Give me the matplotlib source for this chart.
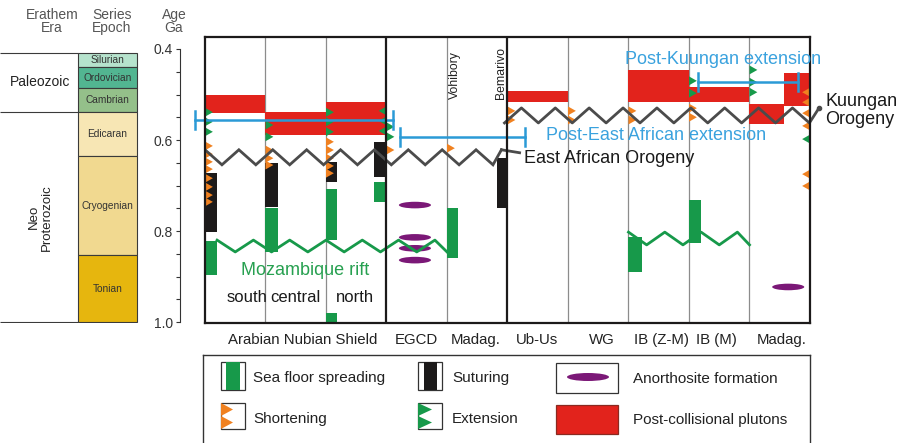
import numpy as np
import matplotlib
matplotlib.use("Agg")
import matplotlib.pyplot as plt
from matplotlib.patches import Rectangle, Ellipse, Polygon

plt.rcParams['font.family'] = ['Liberation Sans', 'DejaVu Sans']

W, H = 904, 443

# ------------------------------------------------------------------ data
periods = ['Silurian', 'Ordovician', 'Cambrian', 'Edicaran', 'Cryogenian', 'Tonian']
period_top = [0.409, 0.440, 0.486, 0.538, 0.635, 0.853]
period_base = [0.440, 0.486, 0.538, 0.635, 0.853, 1.000]
period_colors = ['#b6e3cd', '#52b591', '#94c08a', '#f7e6b4', '#f1d990', '#e6b60e']
eras = ['Paleozoic', 'Neo\nProterozoic']
era_mid = [0.473, 0.77]
era_bounds = [0.409, 0.538, 1.000]

age_major = [0.4, 0.6, 0.8, 1.0]
age_minor = [0.45, 0.5, 0.55, 0.65, 0.7, 0.75, 0.85, 0.9, 0.95]

sub_columns = ['south', 'central', 'north']
sub_col_x = [0.69, 1.49, 2.48]
groups = ['Arabian Nubian Shield', 'EGCD', 'Madag.', 'Ub-Us', 'WG', 'IB (Z-M)', 'IB (M)', 'Madag.']
group_x = [1.62, 3.49, 4.48, 5.49, 6.56, 7.54, 8.46, 9.54]

# sea floor spreading (green bars)
spread_x0 = [0.00, 1.00, 2.00, 2.00, 2.80, 4.00, 7.00, 8.00]
spread_x1 = [0.20, 1.20, 2.18, 2.18, 3.00, 4.18, 7.22, 8.20]
spread_top = [0.822, 0.750, 0.708, 0.980, 0.692, 0.750, 0.813, 0.732]
spread_base = [0.897, 0.846, 0.820, 1.000, 0.736, 0.860, 0.890, 0.826]

# suturing (black bars)
suture_x0 = [0.00, 1.00, 2.00, 2.80, 4.83]
suture_x1 = [0.20, 1.20, 2.18, 3.00, 5.00]
suture_top = [0.673, 0.651, 0.648, 0.604, 0.640]
suture_base = [0.802, 0.747, 0.692, 0.681, 0.750]

# post-collisional plutons (red blocks)
pluton_x0 = [0.0, 1.0, 2.0, 5.0, 7.0, 8.0, 9.0, 9.57]
pluton_x1 = [1.0, 2.0, 3.0, 6.0, 8.0, 9.0, 9.57, 10.0]
pluton_top = [0.501, 0.538, 0.516, 0.492, 0.446, 0.484, 0.521, 0.453]
pluton_base = [0.541, 0.589, 0.589, 0.516, 0.516, 0.516, 0.565, 0.525]

# shortening (orange triangles): column edge, age, direction
short_x = [0] * 8 + [1] * 3 + [2] * 5 + [3, 4, 5, 5, 6, 6, 7, 7, 8, 8] + [10] * 6
short_age = [0.613, 0.631, 0.648, 0.664, 0.684, 0.703, 0.721, 0.736,
             0.622, 0.640, 0.655,
             0.604, 0.622, 0.640, 0.657, 0.673,
             0.622, 0.618, 0.536, 0.556, 0.536, 0.556, 0.536, 0.556, 0.530, 0.550,
             0.495, 0.517, 0.541, 0.569, 0.675, 0.701]
short_dir = [1] * 26 + [-1] * 6

# extension (green triangles)
ext_x = [0, 0, 0, 1, 1, 2, 2, 2, 3, 3, 3, 3, 3, 8, 8, 9, 9, 9, 10]
ext_age = [0.539, 0.560, 0.582, 0.567, 0.593, 0.539, 0.560, 0.582,
           0.536, 0.558, 0.580, 0.571, 0.593, 0.470, 0.497, 0.446, 0.473, 0.495, 0.598]
ext_dir = [1] * 8 + [-1] * 3 + [1] * 7 + [-1]

# anorthosite formation
anor_x = [3.47, 3.47, 3.47, 3.47, 9.64]
anor_age = [0.743, 0.814, 0.838, 0.864, 0.923]

# orogenies / rifts (zig-zag lines): x-range, central age
ea_orogeny = dict(x0=0.0, x1=4.9, age=0.638)
kuungan_orogeny = dict(x0=4.95, x1=10.15, age=0.546)
moz_rift = dict(x0=0.2, x1=4.0, age=0.833)
ib_rift = dict(x0=7.0, x1=9.0, age=0.8165)

# extension periods (blue brackets)
bracket_x0 = [-0.165, 3.22, 8.15]
bracket_x1 = [3.107, 5.29, 9.80]
bracket_age = [0.556, 0.593, 0.4725]

# ------------------------------------------------------------------ style
RED = '#e2231c'
GREEN = '#17994a'
BLACK = '#1c1a1a'
ORANGE = '#f08120'
PURPLE = '#7b1877'
GREY = '#4b4b4b'
BLUE = '#2b9ad6'
TBLUE = '#3aa2de'


def ax_rect(x0, y0, x1, y1):
    return [x0 / W, 1 - y1 / H, (x1 - x0) / W, (y1 - y0) / H]


AGE_TOP = 0.4 + (37 - 49) / 455
AGE_BOT = 0.4 + (323 - 49) / 455

fig = plt.figure(figsize=(W / 100, H / 100), dpi=100)
fig.patch.set_facecolor('white')

# ------------------------------------------------------------ time scale
ts = fig.add_axes(ax_rect(0, 37, 180, 323))
ts.set_xlim(0, 180)
ts.set_ylim(AGE_BOT, AGE_TOP)
ts.axis('off')
for name, t, b, c in zip(periods, period_top, period_base, period_colors):
    ts.add_patch(Rectangle((78, t), 59, b - t, facecolor=c, edgecolor='#3a3a3a', lw=0.8))
    ts.text(107.5, (t + b) / 2, name, ha='center', va='center', fontsize=7.3, color='#333333')
ts.hlines(era_bounds, 0, 78, color='#3a3a3a', lw=0.8)
ts.text(40, era_mid[0], eras[0], ha='center', va='center', fontsize=10, color='#222222')
ts.text(40, era_mid[1], eras[1], ha='center', va='center', fontsize=9.5, color='#222222',
        rotation=90, linespacing=1.1)

fig.text(52 / W, 1 - 15 / H, 'Erathem', ha='center', va='center', fontsize=10, color='#555555')
fig.text(52 / W, 1 - 28 / H, 'Era', ha='center', va='center', fontsize=10, color='#555555')
fig.text(112 / W, 1 - 15 / H, 'Series', ha='center', va='center', fontsize=10, color='#555555')
fig.text(112 / W, 1 - 28 / H, 'Epoch', ha='center', va='center', fontsize=10, color='#555555')
fig.text(174 / W, 1 - 15 / H, 'Age', ha='center', va='center', fontsize=10, color='#555555')
fig.text(174 / W, 1 - 28 / H, 'Ga', ha='center', va='center', fontsize=10, color='#555555')

# age axis
aa = fig.add_axes(ax_rect(180, 37, 181, 323))
aa.set_ylim(AGE_BOT, AGE_TOP)
aa.patch.set_visible(False)
for s in ['top', 'right', 'bottom']:
    aa.spines[s].set_visible(False)
aa.spines['left'].set_bounds(0.4, 1.0)
aa.spines['left'].set_color('#333333')
aa.spines['left'].set_linewidth(0.8)
aa.set_xticks([])
aa.set_yticks(age_major)
aa.set_yticklabels(['%.1f' % v for v in age_major])
aa.set_yticks(age_minor, minor=True)
aa.tick_params(axis='y', which='both', direction='out', length=3, width=0.8,
               color='#333333', labelsize=10, labelcolor='#333333', pad=2)

# ------------------------------------------------------------ main panel
ax = fig.add_axes(ax_rect(205, 37, 810, 323))
ax.set_xlim(0, 10)
ax.set_ylim(AGE_BOT, AGE_TOP)
ax.set_xticks([])
ax.set_yticks([])
for s in ax.spines.values():
    s.set_linewidth(1.6)
    s.set_color(BLACK)
    s.set_zorder(8)
for i in range(1, 10):
    thick = i in (3, 5)
    ax.axvline(i, color=BLACK if thick else '#8c8c8c', lw=1.6 if thick else 0.9,
               zorder=7 if thick else 1)

for x0, x1, t, b in zip(pluton_x0, pluton_x1, pluton_top, pluton_base):
    ax.add_patch(Rectangle((x0, t), x1 - x0, b - t, facecolor=RED, edgecolor='none', zorder=2))
for x0, x1, t, b in zip(spread_x0, spread_x1, spread_top, spread_base):
    ax.add_patch(Rectangle((x0, t), x1 - x0, b - t, facecolor=GREEN, edgecolor='none', zorder=3))
for x0, x1, t, b in zip(suture_x0, suture_x1, suture_top, suture_base):
    ax.add_patch(Rectangle((x0, t), x1 - x0, b - t, facecolor=BLACK, edgecolor='none', zorder=3))

TW, TH = 0.13, 0.0195


def tri(x, a, d, color):
    ax.add_patch(Polygon([(x, a - TH / 2), (x, a + TH / 2), (x + d * TW, a)],
                         closed=True, facecolor=color, edgecolor='none', zorder=4,
                         clip_on=False))


for x, a, d in zip(short_x, short_age, short_dir):
    tri(x, a, d, ORANGE)
for x, a, d in zip(ext_x, ext_age, ext_dir):
    tri(x, a, d, GREEN)

for x, a in zip(anor_x, anor_age):
    ax.add_patch(Ellipse((x, a), 0.53, 0.0145, facecolor=PURPLE, edgecolor='none', zorder=3))


def zigzag(x0, x1, mid, amp, step=0.28, first=1):
    xs = np.arange(x0, x1 + 1e-9, step)
    if xs[-1] < x1 - 1e-6:
        xs = np.append(xs, x1)
    ys = mid + first * amp * (-1.0) ** np.arange(len(xs))
    return xs, ys


xs, ys = zigzag(ea_orogeny['x0'], ea_orogeny['x1'], ea_orogeny['age'], 0.0165, first=-1)
ax.plot(xs, ys, color=GREY, lw=2.0, zorder=6, solid_joinstyle='miter')
ax.plot([xs[-1], 5.2], [ys[-1], ea_orogeny['age'] - 0.01], color=GREY, lw=2.0, zorder=6,
        clip_on=False)
xs, ys = zigzag(kuungan_orogeny['x0'], kuungan_orogeny['x1'], kuungan_orogeny['age'], 0.0165)
ax.plot(xs, ys, color=GREY, lw=2.0, zorder=6, clip_on=False)
ax.plot([xs[-1]], [ys[-1]], 'o', color=GREY, ms=3, zorder=6, clip_on=False)
xs, ys = zigzag(moz_rift['x0'], moz_rift['x1'], moz_rift['age'], 0.013, step=0.3, first=-1)
ax.plot(xs, ys, color=GREEN, lw=2.0, zorder=6)
xs, ys = zigzag(ib_rift['x0'], ib_rift['x1'], ib_rift['age'], 0.014, step=0.3, first=-1)
ax.plot(xs, ys, color=GREEN, lw=2.0, zorder=6)

for x0, x1, a in zip(bracket_x0, bracket_x1, bracket_age):
    ax.plot([x0, x1], [a, a], color=BLUE, lw=1.8, zorder=5, clip_on=False)
    ax.plot([x0, x0], [a - 0.02, a + 0.02], color=BLUE, lw=1.8, zorder=5, clip_on=False)
    ax.plot([x1, x1], [a - 0.02, a + 0.02], color=BLUE, lw=1.8, zorder=5, clip_on=False)

# texts in panel
ax.text(5.27, 0.6396, 'East African Orogeny', fontsize=13, color='#1a1a1a', va='center', zorder=9)
ax.text(5.63, 0.591, 'Post-East African extension', fontsize=13, color=TBLUE, va='center', zorder=9)
ax.text(6.94, 0.424, 'Post-Kuungan extension', fontsize=13, color=TBLUE, va='center', zorder=9)
ax.text(10.25, 0.5345, 'Kuungan\nOrogeny', fontsize=13, color='#1a1a1a', va='center',
        linespacing=1.05, zorder=9)
ax.text(1.65, 0.886, 'Mozambique rift', fontsize=13, color='#27a050', ha='center', va='center',
        zorder=9)
ax.text(4.13, 0.457, 'Vohibory', fontsize=8.8, rotation=90, ha='center', va='center', color='#222222')
ax.text(4.89, 0.453, 'Bemarivo', fontsize=8.8, rotation=90, ha='center', va='center', color='#222222')
for n, x in zip(sub_columns, sub_col_x):
    ax.text(x, 0.947, n, fontsize=12, ha='center', va='center', color='#1a1a1a')
for n, x in zip(groups, group_x):
    ax.text(x, 1.0396, n, fontsize=10.8, ha='center', va='center', color='#222222')

# ------------------------------------------------------------ legend
lg = fig.add_axes(ax_rect(203, 355, 810, 443))
lg.set_xlim(203, 810)
lg.set_ylim(443, 355)
lg.set_xticks([])
lg.set_yticks([])
lg.spines['bottom'].set_visible(False)
for s in ['top', 'left', 'right']:
    lg.spines[s].set_linewidth(1.0)
    lg.spines[s].set_color('#333333')

# icons
lg.add_patch(Rectangle((221, 362), 24, 28, facecolor='white', edgecolor='#333333', lw=0.9))
lg.add_patch(Rectangle((226, 362), 14, 28, facecolor=GREEN, edgecolor='none'))
lg.add_patch(Rectangle((418, 362), 24, 28, facecolor='white', edgecolor='#333333', lw=0.9))
lg.add_patch(Rectangle((424, 362), 13, 28, facecolor=BLACK, edgecolor='none'))
lg.add_patch(Rectangle((556, 363), 62, 30, facecolor='white', edgecolor='#333333', lw=0.9))
lg.add_patch(Ellipse((588, 377), 42, 8, facecolor=PURPLE, edgecolor='none'))
lg.add_patch(Rectangle((221, 403), 24, 26, facecolor='white', edgecolor='#333333', lw=0.9))
lg.add_patch(Rectangle((418, 403), 24, 26, facecolor='white', edgecolor='#333333', lw=0.9))
for yc in (409.5, 422.5):
    lg.add_patch(Polygon([(221, yc - 6.5), (221, yc + 6.5), (233, yc)], facecolor=ORANGE,
                         edgecolor='none'))
    lg.add_patch(Polygon([(418, yc - 6.5), (418, yc + 6.5), (432, yc)], facecolor=GREEN,
                         edgecolor='none'))
lg.add_patch(Rectangle((556, 405), 62, 29, facecolor=RED, edgecolor='#8a2a20', lw=0.9))

lg.text(253, 378, 'Sea floor spreading', fontsize=11, va='center', color='#222222')
lg.text(452, 378, 'Suturing', fontsize=11, va='center', color='#222222')
lg.text(633, 379, 'Anorthosite formation', fontsize=11, va='center', color='#222222')
lg.text(253, 419, 'Shortening', fontsize=11, va='center', color='#222222')
lg.text(452, 419, 'Extension', fontsize=11, va='center', color='#222222')
lg.text(633, 420, 'Post-collisional plutons', fontsize=11, va='center', color='#222222')

fig.savefig('out.png', dpi=100)
